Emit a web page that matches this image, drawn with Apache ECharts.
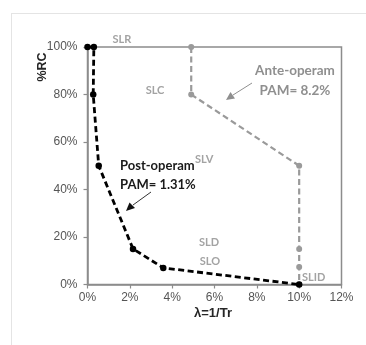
<!DOCTYPE html>
<html>
<head>
<meta charset="utf-8">
<script src="https://cdn.jsdelivr.net/npm/echarts@6/dist/echarts.min.js"></script>
<style>
  html, body { margin: 0; padding: 0; background: #fff; }
  #frame { position: absolute; left: 11px; top: 13px; width: 360px; height: 340px;
           border-left: 1.5px solid #e4e4e4; border-top: 1.5px solid #e4e4e4; border-right: 1.5px solid #e4e4e4; box-sizing: border-box; }
  #chart { position: absolute; left: 0; top: 0; width: 366px; height: 345px; }
</style>
</head>
<body>
<div id="frame"></div>
<div id="chart"></div>
<script>
// Return period inverse (λ, %) against residual capacity (%RC)
const postLambda = [0, 0.3, 0.27, 0.53, 2.15, 3.58, 10];
const postRC     = [100, 100, 80, 50, 15, 7, 0];
const anteLambda = [4.9, 4.9, 10, 10, 10, 10];
const anteRC     = [100, 80, 50, 15, 7.4, 0];
const xTicks = { min: 0, max: 12, step: 2 };
const yTicks = { min: 0, max: 100, step: 20 };

const chart = echarts.init(document.getElementById('chart'), null, { renderer: 'canvas' });

const pairs = (xs, ys) => xs.map((x, i) => [x, ys[i]]);

const gray = '#9a9a9a';
const axisGray = '#8c8c8c';
const textFont = 'Lato, "Open Sans", sans-serif';

function slLabel(text, x, y, align) {
  return {
    type: 'text', x: x, y: y, z: 10,
    style: { text: text, fill: '#a3a3a3', font: 'bold 11px ' + textFont,
             textAlign: align || 'center', textVerticalAlign: 'middle' }
  };
}

chart.setOption({
  animation: false,
  grid: { left: 87.5, top: 47, right: 24.5, bottom: 60.5, show: true,
          borderColor: axisGray, borderWidth: 1.5, backgroundColor: 'transparent' },
  xAxis: {
    type: 'value', min: xTicks.min, max: xTicks.max, interval: xTicks.step,
    splitLine: { show: false },
    axisLine: { show: true, onZero: false, lineStyle: { color: axisGray, width: 1.5 } },
    axisTick: { show: true, length: 4, lineStyle: { color: axisGray, width: 1.2 } },
    axisLabel: { formatter: '{value}%', color: '#555', fontSize: 12,
                 fontFamily: '"Liberation Sans", Arial, sans-serif', margin: 7 }
  },
  yAxis: {
    type: 'value', min: yTicks.min, max: yTicks.max, interval: yTicks.step,
    splitLine: { show: false },
    axisLine: { show: true, onZero: false, lineStyle: { color: axisGray, width: 1.5 } },
    axisTick: { show: true, length: 4, lineStyle: { color: axisGray, width: 1.2 } },
    axisLabel: { formatter: '{value}%', color: '#555', fontSize: 12,
                 fontFamily: '"Liberation Sans", Arial, sans-serif', margin: 10 }
  },
  series: [
    {
      name: 'Ante-operam', type: 'line', data: pairs(anteLambda, anteRC),
      symbol: 'circle', symbolSize: 6, z: 2,
      itemStyle: { color: gray },
      lineStyle: { color: gray, width: 2.2, type: [6, 3.5] }
    },
    {
      name: 'Post-operam', type: 'line', data: pairs(postLambda, postRC),
      symbol: 'circle', symbolSize: 6.5, z: 3,
      itemStyle: { color: '#000' },
      lineStyle: { color: '#000', width: 2.8, type: [6, 3.5] }
    }
  ],
  graphic: [
    { type: 'text', x: 43, y: 67, rotation: Math.PI / 2, z: 10,
      style: { text: '%RC', fill: '#262626', font: 'bold 12.5px "Liberation Sans", Arial, sans-serif',
               textAlign: 'center', textVerticalAlign: 'middle' } },
    { type: 'text', x: 213, y: 313, z: 10,
      style: { text: 'λ=1/Tr', fill: '#262626', font: 'bold 13px "Liberation Sans", Arial, sans-serif',
               textAlign: 'center', textVerticalAlign: 'middle' } },

    slLabel('SLR', 122, 39),
    slLabel('SLC', 155, 90),
    slLabel('SLV', 195, 159, 'left'),
    slLabel('SLD', 209, 242),
    slLabel('SLO', 210, 261),
    slLabel('SLID', 302, 277, 'left'),

    { type: 'text', x: 120, y: 166, z: 10,
      style: { text: 'Post-operam', fill: '#1a1a1a', font: 'bold 13px ' + textFont,
               textAlign: 'left', textVerticalAlign: 'middle' } },
    { type: 'text', x: 120, y: 185, z: 10,
      style: { text: 'PAM= 1.31%', fill: '#1a1a1a', font: 'bold 13px ' + textFont,
               textAlign: 'left', textVerticalAlign: 'middle' } },
    { type: 'line', z: 10, shape: { x1: 151, y1: 192, x2: 133, y2: 205 },
      style: { stroke: '#333', lineWidth: 1 } },
    { type: 'polygon', z: 10, shape: { points: [[126, 211], [129.5, 202.5], [135, 208]] },
      style: { fill: '#111' } },

    { type: 'text', x: 295, y: 71, z: 10,
      style: { text: 'Ante-operam', fill: '#8f8f8f', font: 'bold 13.5px ' + textFont,
               textAlign: 'center', textVerticalAlign: 'middle' } },
    { type: 'text', x: 295, y: 91, z: 10,
      style: { text: 'PAM= 8.2%', fill: '#8f8f8f', font: 'bold 13.5px ' + textFont,
               textAlign: 'center', textVerticalAlign: 'middle' } },
    { type: 'line', z: 10, shape: { x1: 252, y1: 83, x2: 233, y2: 95 },
      style: { stroke: '#8f8f8f', lineWidth: 1 } },
    { type: 'polygon', z: 10, shape: { points: [[226, 100], [230.5, 92], [235, 98.5]] },
      style: { fill: '#8f8f8f' } }
  ]
});
</script>
</body>
</html>
